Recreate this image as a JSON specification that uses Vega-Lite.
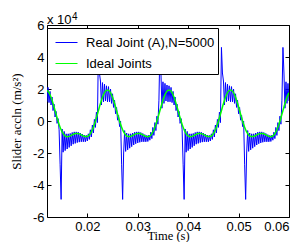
{
"$schema":"https://vega.github.io/schema/vega-lite/v6.json",
"width":242,"height":192,
"autosize":{"type":"none"},
"padding":{"left":47,"top":25,"right":14,"bottom":25},
"background":"white",
"config":{"view":{"stroke":null},
 "axis":{"grid":false,"domainColor":"black","tickColor":"black","labelColor":"black","titleColor":"black","labelFont":"Liberation Sans","labelFontSize":13,"titleFont":"Liberation Serif","titleFontSize":13,"titleFontWeight":"normal","tickSize":-4,"domainWidth":1,"tickWidth":1}},
"datasets":{
"real":[
{"t":0.012,"a":12000},{"t":0.0122,"a":21000},{"t":0.0124,"a":11500},{"t":0.0126,"a":18500},{"t":0.0128,"a":10000},{"t":0.013,"a":15000},{"t":0.0132,"a":6500},{"t":0.0134,"a":10500},{"t":0.0136,"a":2500},{"t":0.0138,"a":6000},{"t":0.014,"a":-1500},{"t":0.0142,"a":1500},{"t":0.0144,"a":-5500},{"t":0.0146,"a":-27000},{"t":0.0148,"a":-49000},{"t":0.015,"a":-5000},{"t":0.0152,"a":-19500},{"t":0.0154,"a":-6500},{"t":0.0156,"a":-18500},{"t":0.0158,"a":-8000},{"t":0.016,"a":-17500},{"t":0.0162,"a":-8000},{"t":0.0164,"a":-16500},{"t":0.0166,"a":-7800},{"t":0.0168,"a":-15500},{"t":0.017,"a":-7200},{"t":0.0172,"a":-14500},{"t":0.0174,"a":-6800},{"t":0.0176,"a":-14000},{"t":0.0178,"a":-6800},{"t":0.018,"a":-13500},{"t":0.0182,"a":-7000},{"t":0.0184,"a":-13200},{"t":0.0186,"a":-7500},{"t":0.0188,"a":-13000},{"t":0.019,"a":-8200},{"t":0.0192,"a":-13000},{"t":0.0194,"a":-8800},{"t":0.0196,"a":-13000},{"t":0.0198,"a":-9000},{"t":0.02,"a":-12500},{"t":0.0202,"a":-8000},{"t":0.0204,"a":-11500},{"t":0.0206,"a":-5500},{"t":0.0208,"a":-10000},{"t":0.021,"a":-2500},{"t":0.0212,"a":-7500},{"t":0.0214,"a":1000},{"t":0.0216,"a":-4000},{"t":0.0218,"a":5500},{"t":0.022,"a":-1000},{"t":0.0222,"a":46000},{"t":0.0224,"a":30000},{"t":0.0226,"a":25000},{"t":0.0228,"a":10000},{"t":0.023,"a":24000},{"t":0.0232,"a":12000},{"t":0.0234,"a":23000},{"t":0.0236,"a":12500},{"t":0.0238,"a":22000},
{"t":0.024,"a":12000},{"t":0.0242,"a":21500},{"t":0.0244,"a":12000},{"t":0.0246,"a":20000},{"t":0.0248,"a":11000},{"t":0.025,"a":17000},{"t":0.0252,"a":8500},{"t":0.0254,"a":13000},{"t":0.0256,"a":4500},{"t":0.0258,"a":8500},{"t":0.026,"a":500},{"t":0.0262,"a":3500},{"t":0.0264,"a":-3500},{"t":0.0266,"a":0},{"t":0.0268,"a":-27000},{"t":0.027,"a":-49000},{"t":0.0272,"a":-20000},{"t":0.0274,"a":-6000},{"t":0.0276,"a":-19000},{"t":0.0278,"a":-7500},{"t":0.028,"a":-18000},{"t":0.0282,"a":-8000},{"t":0.0284,"a":-17000},{"t":0.0286,"a":-8000},{"t":0.0288,"a":-16000},{"t":0.029,"a":-7500},{"t":0.0292,"a":-15000},{"t":0.0294,"a":-7000},{"t":0.0296,"a":-14200},{"t":0.0298,"a":-6800},{"t":0.03,"a":-13700},{"t":0.0302,"a":-6800},{"t":0.0304,"a":-13300},{"t":0.0306,"a":-7200},{"t":0.0308,"a":-13000},{"t":0.031,"a":-7800},{"t":0.0312,"a":-13000},{"t":0.0314,"a":-8500},{"t":0.0316,"a":-13000},{"t":0.0318,"a":-9000},{"t":0.032,"a":-12800},{"t":0.0322,"a":-8800},{"t":0.0324,"a":-12000},{"t":0.0326,"a":-7000},{"t":0.0328,"a":-11000},{"t":0.033,"a":-4000},{"t":0.0332,"a":-9000},{"t":0.0334,"a":-1000},{"t":0.0336,"a":-6000},{"t":0.0338,"a":3000},{"t":0.034,"a":-2000},{"t":0.0342,"a":13000},{"t":0.0344,"a":46000},{"t":0.0346,"a":30000},{"t":0.0348,"a":8000},{"t":0.035,"a":24500},{"t":0.0352,"a":11000},{"t":0.0354,"a":23500},{"t":0.0356,"a":12500},{"t":0.0358,"a":22500},{"t":0.036,"a":12000},
{"t":0.0362,"a":22000},{"t":0.0364,"a":12000},{"t":0.0366,"a":21000},{"t":0.0368,"a":11500},{"t":0.037,"a":18500},{"t":0.0372,"a":10000},{"t":0.0374,"a":15000},{"t":0.0376,"a":6500},{"t":0.0378,"a":10500},{"t":0.038,"a":2500},{"t":0.0382,"a":6000},{"t":0.0384,"a":-1500},{"t":0.0386,"a":1500},{"t":0.0388,"a":-5500},{"t":0.039,"a":-27000},{"t":0.0392,"a":-49000},{"t":0.0394,"a":-5000},{"t":0.0396,"a":-19500},{"t":0.0398,"a":-6500},{"t":0.04,"a":-18500},{"t":0.0402,"a":-8000},{"t":0.0404,"a":-17500},{"t":0.0406,"a":-8000},{"t":0.0408,"a":-16500},{"t":0.041,"a":-7800},{"t":0.0412,"a":-15500},{"t":0.0414,"a":-7200},{"t":0.0416,"a":-14500},{"t":0.0418,"a":-6800},{"t":0.042,"a":-14000},{"t":0.0422,"a":-6800},{"t":0.0424,"a":-13500},{"t":0.0426,"a":-7000},{"t":0.0428,"a":-13200},{"t":0.043,"a":-7500},{"t":0.0432,"a":-13000},{"t":0.0434,"a":-8200},{"t":0.0436,"a":-13000},{"t":0.0438,"a":-8800},{"t":0.044,"a":-13000},{"t":0.0442,"a":-9000},{"t":0.0444,"a":-12500},{"t":0.0446,"a":-8000},{"t":0.0448,"a":-11500},{"t":0.045,"a":-5500},{"t":0.0452,"a":-10000},{"t":0.0454,"a":-2500},{"t":0.0456,"a":-7500},{"t":0.0458,"a":1000},{"t":0.046,"a":-4000},{"t":0.0462,"a":5500},{"t":0.0464,"a":-1000},{"t":0.0466,"a":46000},{"t":0.0468,"a":30000},{"t":0.047,"a":25000},{"t":0.0472,"a":10000},{"t":0.0474,"a":24000},{"t":0.0476,"a":12000},{"t":0.0478,"a":23000},{"t":0.048,"a":12500},{"t":0.0482,"a":22000},
{"t":0.0484,"a":12000},{"t":0.0486,"a":21500},{"t":0.0488,"a":12000},{"t":0.049,"a":20000},{"t":0.0492,"a":11000},{"t":0.0494,"a":17000},{"t":0.0496,"a":8500},{"t":0.0498,"a":13000},{"t":0.05,"a":4500},{"t":0.0502,"a":8500},{"t":0.0504,"a":500},{"t":0.0506,"a":3500},{"t":0.0508,"a":-3500},{"t":0.051,"a":0},{"t":0.0512,"a":-27000},{"t":0.0514,"a":-49000},{"t":0.0516,"a":-20000},{"t":0.0518,"a":-6000},{"t":0.052,"a":-19000},{"t":0.0522,"a":-7500},{"t":0.0524,"a":-18000},{"t":0.0526,"a":-8000},{"t":0.0528,"a":-17000},{"t":0.053,"a":-8000},{"t":0.0532,"a":-16000},{"t":0.0534,"a":-7500},{"t":0.0536,"a":-15000},{"t":0.0538,"a":-7000},{"t":0.054,"a":-14200},{"t":0.0542,"a":-6800},{"t":0.0544,"a":-13700},{"t":0.0546,"a":-6800},{"t":0.0548,"a":-13300},{"t":0.055,"a":-7200},{"t":0.0552,"a":-13000},{"t":0.0554,"a":-7800},{"t":0.0556,"a":-13000},{"t":0.0558,"a":-8500},{"t":0.056,"a":-13000},{"t":0.0562,"a":-9000},{"t":0.0564,"a":-12800},{"t":0.0566,"a":-8800},{"t":0.0568,"a":-12000},{"t":0.057,"a":-7000},{"t":0.0572,"a":-11000},{"t":0.0574,"a":-4000},{"t":0.0576,"a":-9000},{"t":0.0578,"a":-1000},{"t":0.058,"a":-6000},{"t":0.0582,"a":3000},{"t":0.0584,"a":-2000},{"t":0.0586,"a":13000},{"t":0.0588,"a":46000},{"t":0.059,"a":30000},{"t":0.0592,"a":8000},{"t":0.0594,"a":24500},{"t":0.0596,"a":11000},{"t":0.0598,"a":23500},{"t":0.06,"a":12500}
],
"ideal":[
{"t":0.012,"a":19250},{"t":0.0124,"a":17720},{"t":0.0128,"a":14850},{"t":0.0132,"a":10970},{"t":0.0136,"a":6530},{"t":0.014,"a":2020},{"t":0.0144,"a":-2110},{"t":0.0148,"a":-5490},{"t":0.0152,"a":-7910},{"t":0.0156,"a":-9310},{"t":0.016,"a":-9790},{"t":0.0164,"a":-9590},{"t":0.0168,"a":-9000},{"t":0.0172,"a":-8330},{"t":0.0176,"a":-7870},{"t":0.018,"a":-7770},{"t":0.0184,"a":-8060},{"t":0.0188,"a":-8650},{"t":0.0192,"a":-9320},{"t":0.0196,"a":-9760},{"t":0.02,"a":-9640},{"t":0.0204,"a":-8730},{"t":0.0208,"a":-6830},{"t":0.0212,"a":-3910},{"t":0.0216,"a":-120},{"t":0.022,"a":4250},{"t":0.0224,"a":8790},{"t":0.0228,"a":13010},{"t":0.0232,"a":16440},{"t":0.0236,"a":18670},
{"t":0.024,"a":19450},{"t":0.0244,"a":18670},{"t":0.0248,"a":16440},{"t":0.0252,"a":13010},{"t":0.0256,"a":8790},{"t":0.026,"a":4250},{"t":0.0264,"a":-120},{"t":0.0268,"a":-3910},{"t":0.0272,"a":-6830},{"t":0.0276,"a":-8730},{"t":0.028,"a":-9640},{"t":0.0284,"a":-9760},{"t":0.0288,"a":-9320},{"t":0.0292,"a":-8650},{"t":0.0296,"a":-8060},{"t":0.03,"a":-7770},{"t":0.0304,"a":-7870},{"t":0.0308,"a":-8330},{"t":0.0312,"a":-9000},{"t":0.0316,"a":-9590},{"t":0.032,"a":-9790},{"t":0.0324,"a":-9310},{"t":0.0328,"a":-7910},{"t":0.0332,"a":-5490},{"t":0.0336,"a":-2110},{"t":0.034,"a":2020},{"t":0.0344,"a":6530},{"t":0.0348,"a":10970},{"t":0.0352,"a":14850},{"t":0.0356,"a":17720},{"t":0.036,"a":19250},
{"t":0.0364,"a":19250},{"t":0.0368,"a":17720},{"t":0.0372,"a":14850},{"t":0.0376,"a":10970},{"t":0.038,"a":6530},{"t":0.0384,"a":2020},{"t":0.0388,"a":-2110},{"t":0.0392,"a":-5490},{"t":0.0396,"a":-7910},{"t":0.04,"a":-9310},{"t":0.0404,"a":-9790},{"t":0.0408,"a":-9590},{"t":0.0412,"a":-9000},{"t":0.0416,"a":-8330},{"t":0.042,"a":-7870},{"t":0.0424,"a":-7770},{"t":0.0428,"a":-8060},{"t":0.0432,"a":-8650},{"t":0.0436,"a":-9320},{"t":0.044,"a":-9760},{"t":0.0444,"a":-9640},{"t":0.0448,"a":-8730},{"t":0.0452,"a":-6830},{"t":0.0456,"a":-3910},{"t":0.046,"a":-120},{"t":0.0464,"a":4250},{"t":0.0468,"a":8790},{"t":0.0472,"a":13010},{"t":0.0476,"a":16440},{"t":0.048,"a":18670},
{"t":0.0484,"a":19450},{"t":0.0488,"a":18670},{"t":0.0492,"a":16440},{"t":0.0496,"a":13010},{"t":0.05,"a":8790},{"t":0.0504,"a":4250},{"t":0.0508,"a":-120},{"t":0.0512,"a":-3910},{"t":0.0516,"a":-6830},{"t":0.052,"a":-8730},{"t":0.0524,"a":-9640},{"t":0.0528,"a":-9760},{"t":0.0532,"a":-9320},{"t":0.0536,"a":-8650},{"t":0.054,"a":-8060},{"t":0.0544,"a":-7770},{"t":0.0548,"a":-7870},{"t":0.0552,"a":-8330},{"t":0.0556,"a":-9000},{"t":0.056,"a":-9590},{"t":0.0564,"a":-9790},{"t":0.0568,"a":-9310},{"t":0.0572,"a":-7910},{"t":0.0576,"a":-5490},{"t":0.058,"a":-2110},{"t":0.0584,"a":2020},{"t":0.0588,"a":6530},{"t":0.0592,"a":10970},{"t":0.0596,"a":14850},{"t":0.06,"a":17720}
],
"note":[{"t":0.012,"a":60000,"base":"x 10","exp":"4"}]
},
"layer":[
{"data":{"name":"real"},
 "mark":{"type":"line","strokeWidth":1,"clip":true},
 "encoding":{
  "x":{"field":"t","type":"quantitative","scale":{"domain":[0.012,0.06],"nice":false,"zero":false},
   "axis":{"orient":"bottom","values":[0.02,0.03,0.04,0.05,0.06],"format":".2f","title":"Time (s)","labelPadding":7,"titleBaseline":"alphabetic","titleY":22,"titleFontSize":12.5}},
  "y":{"field":"a","type":"quantitative","scale":{"domain":[-60000,60000],"nice":false},
   "axis":{"orient":"left","values":[-60000,-40000,-20000,0,20000,40000,60000],"labelExpr":"datum.value/10000","title":"Slider accln (m/s²)","labelPadding":7,"titlePadding":9}},
  "color":{"datum":"Real Joint (A),N=5000","type":"nominal",
   "scale":{"domain":["Real Joint (A),N=5000","Ideal Joints"],"range":["#0000ff","#00ff00"]},
   "legend":{"orient":"none","legendX":0,"legendY":3,"title":null,"fillColor":"white","strokeColor":"black","padding":3,"symbolType":"stroke","symbolSize":484,"symbolStrokeWidth":1,"symbolOffset":5,"labelOffset":8,"labelFont":"Liberation Sans","labelFontSize":13,"labelColor":"black","rowPadding":2,"labelLimit":300}}
 }},
{"data":{"name":"ideal"},
 "mark":{"type":"line","strokeWidth":1.5,"interpolate":"monotone","clip":true},
 "encoding":{
  "x":{"field":"t","type":"quantitative","scale":{"domain":[0.012,0.06],"nice":false,"zero":false},
   "axis":{"orient":"top","values":[0.02,0.03,0.04,0.05,0.06],"labels":false,"title":null}},
  "y":{"field":"a","type":"quantitative","scale":{"domain":[-60000,60000],"nice":false},
   "axis":{"orient":"right","values":[-60000,-40000,-20000,0,20000,40000,60000],"labels":false,"title":null}},
  "color":{"datum":"Ideal Joints","type":"nominal"}
 }},
{"data":{"name":"note"},
 "mark":{"type":"text","align":"left","baseline":"alphabetic","dy":-1,"font":"Liberation Sans","fontSize":13,"color":"black"},
 "encoding":{
  "x":{"field":"t","type":"quantitative","axis":null},
  "y":{"field":"a","type":"quantitative","axis":null},
  "text":{"field":"base"}}},
{"data":{"name":"note"},
 "mark":{"type":"text","align":"left","baseline":"alphabetic","dx":25,"dy":-5,"font":"Liberation Sans","fontSize":10,"color":"black"},
 "encoding":{
  "x":{"field":"t","type":"quantitative","axis":null},
  "y":{"field":"a","type":"quantitative","axis":null},
  "text":{"field":"exp"}}}
],
"resolve":{"axis":{"x":"independent","y":"independent"}}
}
